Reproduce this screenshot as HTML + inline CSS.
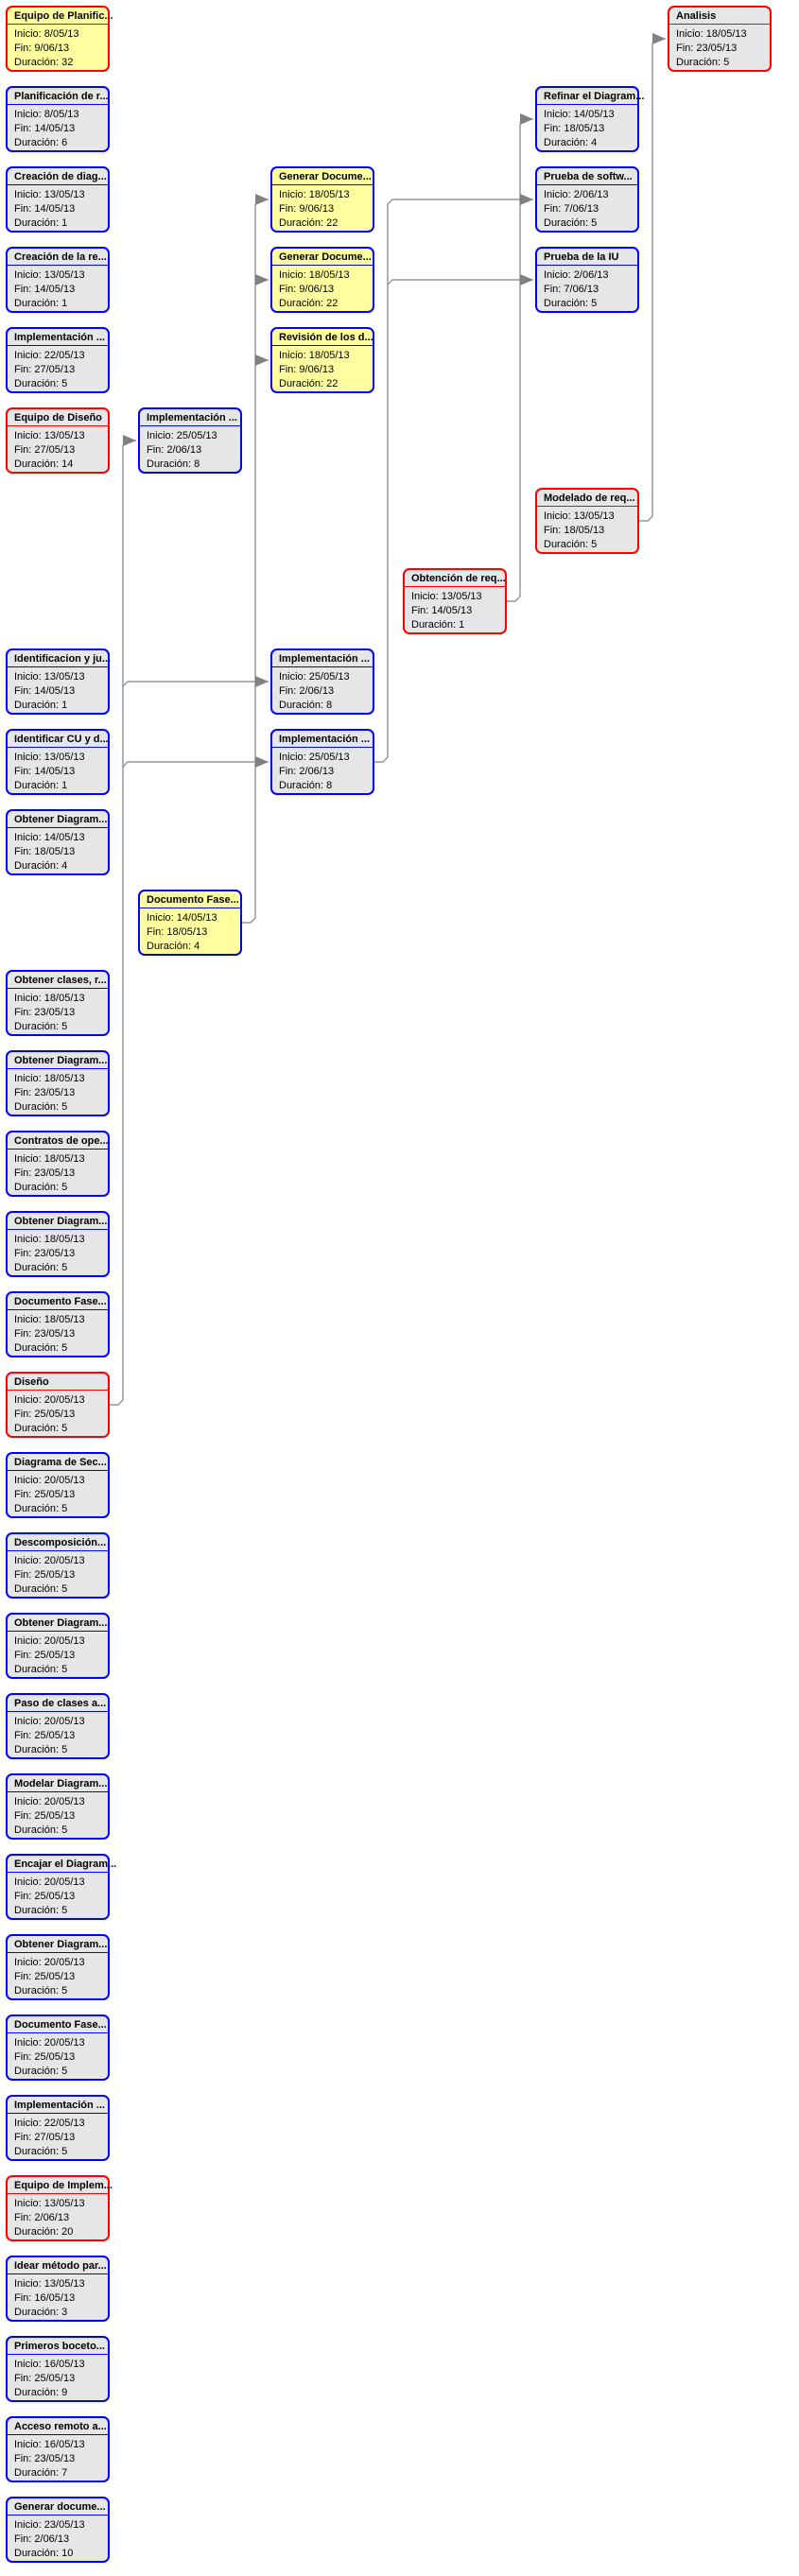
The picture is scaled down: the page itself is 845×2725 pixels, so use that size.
<!DOCTYPE html>
<html><head><meta charset="utf-8"><style>
html,body{margin:0;padding:0;background:#fff;width:845px;height:2725px;overflow:hidden}
svg{display:block}
text{font-family:"Liberation Sans",sans-serif;font-size:11px;fill:#000}
.t{font-weight:bold}
.b rect{fill:#e6e6e6;stroke:#0000ff;stroke-width:2}
.b line{stroke:#0000ff;stroke-width:1}
.r rect{stroke:#ff0000}
.r line{stroke:#ff0000}
.y rect{fill:#ffffa0}
.c{fill:none;stroke:#808080;stroke-width:1.2}
.a{fill:#808080}
</style></head><body>
<svg width="845" height="2725" xmlns="http://www.w3.org/2000/svg">
<defs>
<g id="x"></g>
</defs>
<!-- connectors -->
<path class="c" d="M115,1486 L125,1486 L130,1481 L130,471 L135,466 L144,466"/>
<path class="c" d="M130,726 L135,721 L284,721"/>
<path class="c" d="M130,811 L135,806 L284,806"/>
<path class="c" d="M255,976 L265,976 L270,971 L270,216 L275,211 L284,211"/>
<path class="c" d="M270,301 L275,296 L284,296"/>
<path class="c" d="M270,386 L275,381 L284,381"/>
<path class="c" d="M395,806 L405,806 L410,801 L410,216 L415,211 L564,211"/>
<path class="c" d="M410,301 L415,296 L564,296"/>
<path class="c" d="M535,636 L545,636 L550,631 L550,131 L555,126 L564,126"/>
<path class="c" d="M675,551 L685,551 L690,546 L690,46 L695,41 L704,41"/>
<polygon class="a" points="130,460 144,466 130,472"/>
<polygon class="a" points="270,205 284,211 270,217"/>
<polygon class="a" points="270,290 284,296 270,302"/>
<polygon class="a" points="270,375 284,381 270,387"/>
<polygon class="a" points="270,715 284,721 270,727"/>
<polygon class="a" points="270,800 284,806 270,812"/>
<polygon class="a" points="550,120 564,126 550,132"/>
<polygon class="a" points="550,205 564,211 550,217"/>
<polygon class="a" points="550,290 564,296 550,302"/>
<polygon class="a" points="690,35 704,41 690,47"/>

<!-- nodes -->
<g class="b r y" transform="translate(6,6)"><rect x="1" y="1" width="108" height="68" rx="6"/><line x1="1" y1="19.5" x2="109" y2="19.5"/><text class="t" x="9" y="14">Equipo de Planific...</text><text x="9" y="33">Inicio: 8/05/13</text><text x="9" y="48">Fin: 9/06/13</text><text x="9" y="63">Duración: 32</text></g>
<g class="b" transform="translate(6,91)"><rect x="1" y="1" width="108" height="68" rx="6"/><line x1="1" y1="19.5" x2="109" y2="19.5"/><text class="t" x="9" y="14">Planificación de r...</text><text x="9" y="33">Inicio: 8/05/13</text><text x="9" y="48">Fin: 14/05/13</text><text x="9" y="63">Duración: 6</text></g>
<g class="b" transform="translate(6,176)"><rect x="1" y="1" width="108" height="68" rx="6"/><line x1="1" y1="19.5" x2="109" y2="19.5"/><text class="t" x="9" y="14">Creación de diag...</text><text x="9" y="33">Inicio: 13/05/13</text><text x="9" y="48">Fin: 14/05/13</text><text x="9" y="63">Duración: 1</text></g>
<g class="b" transform="translate(6,261)"><rect x="1" y="1" width="108" height="68" rx="6"/><line x1="1" y1="19.5" x2="109" y2="19.5"/><text class="t" x="9" y="14">Creación de la re...</text><text x="9" y="33">Inicio: 13/05/13</text><text x="9" y="48">Fin: 14/05/13</text><text x="9" y="63">Duración: 1</text></g>
<g class="b" transform="translate(6,346)"><rect x="1" y="1" width="108" height="68" rx="6"/><line x1="1" y1="19.5" x2="109" y2="19.5"/><text class="t" x="9" y="14">Implementación ...</text><text x="9" y="33">Inicio: 22/05/13</text><text x="9" y="48">Fin: 27/05/13</text><text x="9" y="63">Duración: 5</text></g>
<g class="b r" transform="translate(6,431)"><rect x="1" y="1" width="108" height="68" rx="6"/><line x1="1" y1="19.5" x2="109" y2="19.5"/><text class="t" x="9" y="14">Equipo de Diseño</text><text x="9" y="33">Inicio: 13/05/13</text><text x="9" y="48">Fin: 27/05/13</text><text x="9" y="63">Duración: 14</text></g>
<g class="b" transform="translate(6,686)"><rect x="1" y="1" width="108" height="68" rx="6"/><line x1="1" y1="19.5" x2="109" y2="19.5"/><text class="t" x="9" y="14">Identificacion y ju...</text><text x="9" y="33">Inicio: 13/05/13</text><text x="9" y="48">Fin: 14/05/13</text><text x="9" y="63">Duración: 1</text></g>
<g class="b" transform="translate(6,771)"><rect x="1" y="1" width="108" height="68" rx="6"/><line x1="1" y1="19.5" x2="109" y2="19.5"/><text class="t" x="9" y="14">Identificar CU y d...</text><text x="9" y="33">Inicio: 13/05/13</text><text x="9" y="48">Fin: 14/05/13</text><text x="9" y="63">Duración: 1</text></g>
<g class="b" transform="translate(6,856)"><rect x="1" y="1" width="108" height="68" rx="6"/><line x1="1" y1="19.5" x2="109" y2="19.5"/><text class="t" x="9" y="14">Obtener Diagram...</text><text x="9" y="33">Inicio: 14/05/13</text><text x="9" y="48">Fin: 18/05/13</text><text x="9" y="63">Duración: 4</text></g>
<g class="b" transform="translate(6,1026)"><rect x="1" y="1" width="108" height="68" rx="6"/><line x1="1" y1="19.5" x2="109" y2="19.5"/><text class="t" x="9" y="14">Obtener clases, r...</text><text x="9" y="33">Inicio: 18/05/13</text><text x="9" y="48">Fin: 23/05/13</text><text x="9" y="63">Duración: 5</text></g>
<g class="b" transform="translate(6,1111)"><rect x="1" y="1" width="108" height="68" rx="6"/><line x1="1" y1="19.5" x2="109" y2="19.5"/><text class="t" x="9" y="14">Obtener Diagram...</text><text x="9" y="33">Inicio: 18/05/13</text><text x="9" y="48">Fin: 23/05/13</text><text x="9" y="63">Duración: 5</text></g>
<g class="b" transform="translate(6,1196)"><rect x="1" y="1" width="108" height="68" rx="6"/><line x1="1" y1="19.5" x2="109" y2="19.5"/><text class="t" x="9" y="14">Contratos de ope...</text><text x="9" y="33">Inicio: 18/05/13</text><text x="9" y="48">Fin: 23/05/13</text><text x="9" y="63">Duración: 5</text></g>
<g class="b" transform="translate(6,1281)"><rect x="1" y="1" width="108" height="68" rx="6"/><line x1="1" y1="19.5" x2="109" y2="19.5"/><text class="t" x="9" y="14">Obtener Diagram...</text><text x="9" y="33">Inicio: 18/05/13</text><text x="9" y="48">Fin: 23/05/13</text><text x="9" y="63">Duración: 5</text></g>
<g class="b" transform="translate(6,1366)"><rect x="1" y="1" width="108" height="68" rx="6"/><line x1="1" y1="19.5" x2="109" y2="19.5"/><text class="t" x="9" y="14">Documento Fase...</text><text x="9" y="33">Inicio: 18/05/13</text><text x="9" y="48">Fin: 23/05/13</text><text x="9" y="63">Duración: 5</text></g>
<g class="b r" transform="translate(6,1451)"><rect x="1" y="1" width="108" height="68" rx="6"/><line x1="1" y1="19.5" x2="109" y2="19.5"/><text class="t" x="9" y="14">Diseño</text><text x="9" y="33">Inicio: 20/05/13</text><text x="9" y="48">Fin: 25/05/13</text><text x="9" y="63">Duración: 5</text></g>
<g class="b" transform="translate(6,1536)"><rect x="1" y="1" width="108" height="68" rx="6"/><line x1="1" y1="19.5" x2="109" y2="19.5"/><text class="t" x="9" y="14">Diagrama de Sec...</text><text x="9" y="33">Inicio: 20/05/13</text><text x="9" y="48">Fin: 25/05/13</text><text x="9" y="63">Duración: 5</text></g>
<g class="b" transform="translate(6,1621)"><rect x="1" y="1" width="108" height="68" rx="6"/><line x1="1" y1="19.5" x2="109" y2="19.5"/><text class="t" x="9" y="14">Descomposición...</text><text x="9" y="33">Inicio: 20/05/13</text><text x="9" y="48">Fin: 25/05/13</text><text x="9" y="63">Duración: 5</text></g>
<g class="b" transform="translate(6,1706)"><rect x="1" y="1" width="108" height="68" rx="6"/><line x1="1" y1="19.5" x2="109" y2="19.5"/><text class="t" x="9" y="14">Obtener Diagram...</text><text x="9" y="33">Inicio: 20/05/13</text><text x="9" y="48">Fin: 25/05/13</text><text x="9" y="63">Duración: 5</text></g>
<g class="b" transform="translate(6,1791)"><rect x="1" y="1" width="108" height="68" rx="6"/><line x1="1" y1="19.5" x2="109" y2="19.5"/><text class="t" x="9" y="14">Paso de clases a...</text><text x="9" y="33">Inicio: 20/05/13</text><text x="9" y="48">Fin: 25/05/13</text><text x="9" y="63">Duración: 5</text></g>
<g class="b" transform="translate(6,1876)"><rect x="1" y="1" width="108" height="68" rx="6"/><line x1="1" y1="19.5" x2="109" y2="19.5"/><text class="t" x="9" y="14">Modelar Diagram...</text><text x="9" y="33">Inicio: 20/05/13</text><text x="9" y="48">Fin: 25/05/13</text><text x="9" y="63">Duración: 5</text></g>
<g class="b" transform="translate(6,1961)"><rect x="1" y="1" width="108" height="68" rx="6"/><line x1="1" y1="19.5" x2="109" y2="19.5"/><text class="t" x="9" y="14">Encajar el Diagram...</text><text x="9" y="33">Inicio: 20/05/13</text><text x="9" y="48">Fin: 25/05/13</text><text x="9" y="63">Duración: 5</text></g>
<g class="b" transform="translate(6,2046)"><rect x="1" y="1" width="108" height="68" rx="6"/><line x1="1" y1="19.5" x2="109" y2="19.5"/><text class="t" x="9" y="14">Obtener Diagram...</text><text x="9" y="33">Inicio: 20/05/13</text><text x="9" y="48">Fin: 25/05/13</text><text x="9" y="63">Duración: 5</text></g>
<g class="b" transform="translate(6,2131)"><rect x="1" y="1" width="108" height="68" rx="6"/><line x1="1" y1="19.5" x2="109" y2="19.5"/><text class="t" x="9" y="14">Documento Fase...</text><text x="9" y="33">Inicio: 20/05/13</text><text x="9" y="48">Fin: 25/05/13</text><text x="9" y="63">Duración: 5</text></g>
<g class="b" transform="translate(6,2216)"><rect x="1" y="1" width="108" height="68" rx="6"/><line x1="1" y1="19.5" x2="109" y2="19.5"/><text class="t" x="9" y="14">Implementación ...</text><text x="9" y="33">Inicio: 22/05/13</text><text x="9" y="48">Fin: 27/05/13</text><text x="9" y="63">Duración: 5</text></g>
<g class="b r" transform="translate(6,2301)"><rect x="1" y="1" width="108" height="68" rx="6"/><line x1="1" y1="19.5" x2="109" y2="19.5"/><text class="t" x="9" y="14">Equipo de Implem...</text><text x="9" y="33">Inicio: 13/05/13</text><text x="9" y="48">Fin: 2/06/13</text><text x="9" y="63">Duración: 20</text></g>
<g class="b" transform="translate(6,2386)"><rect x="1" y="1" width="108" height="68" rx="6"/><line x1="1" y1="19.5" x2="109" y2="19.5"/><text class="t" x="9" y="14">Idear método par...</text><text x="9" y="33">Inicio: 13/05/13</text><text x="9" y="48">Fin: 16/05/13</text><text x="9" y="63">Duración: 3</text></g>
<g class="b" transform="translate(6,2471)"><rect x="1" y="1" width="108" height="68" rx="6"/><line x1="1" y1="19.5" x2="109" y2="19.5"/><text class="t" x="9" y="14">Primeros boceto...</text><text x="9" y="33">Inicio: 16/05/13</text><text x="9" y="48">Fin: 25/05/13</text><text x="9" y="63">Duración: 9</text></g>
<g class="b" transform="translate(6,2556)"><rect x="1" y="1" width="108" height="68" rx="6"/><line x1="1" y1="19.5" x2="109" y2="19.5"/><text class="t" x="9" y="14">Acceso remoto a...</text><text x="9" y="33">Inicio: 16/05/13</text><text x="9" y="48">Fin: 23/05/13</text><text x="9" y="63">Duración: 7</text></g>
<g class="b" transform="translate(6,2641)"><rect x="1" y="1" width="108" height="68" rx="6"/><line x1="1" y1="19.5" x2="109" y2="19.5"/><text class="t" x="9" y="14">Generar docume...</text><text x="9" y="33">Inicio: 23/05/13</text><text x="9" y="48">Fin: 2/06/13</text><text x="9" y="63">Duración: 10</text></g>

<g class="b" transform="translate(146,431)"><rect x="1" y="1" width="108" height="68" rx="6"/><line x1="1" y1="19.5" x2="109" y2="19.5"/><text class="t" x="9" y="14">Implementación ...</text><text x="9" y="33">Inicio: 25/05/13</text><text x="9" y="48">Fin: 2/06/13</text><text x="9" y="63">Duración: 8</text></g>
<g class="b y" transform="translate(146,941)"><rect x="1" y="1" width="108" height="68" rx="6"/><line x1="1" y1="19.5" x2="109" y2="19.5"/><text class="t" x="9" y="14">Documento Fase...</text><text x="9" y="33">Inicio: 14/05/13</text><text x="9" y="48">Fin: 18/05/13</text><text x="9" y="63">Duración: 4</text></g>

<g class="b y" transform="translate(286,176)"><rect x="1" y="1" width="108" height="68" rx="6"/><line x1="1" y1="19.5" x2="109" y2="19.5"/><text class="t" x="9" y="14">Generar Docume...</text><text x="9" y="33">Inicio: 18/05/13</text><text x="9" y="48">Fin: 9/06/13</text><text x="9" y="63">Duración: 22</text></g>
<g class="b y" transform="translate(286,261)"><rect x="1" y="1" width="108" height="68" rx="6"/><line x1="1" y1="19.5" x2="109" y2="19.5"/><text class="t" x="9" y="14">Generar Docume...</text><text x="9" y="33">Inicio: 18/05/13</text><text x="9" y="48">Fin: 9/06/13</text><text x="9" y="63">Duración: 22</text></g>
<g class="b y" transform="translate(286,346)"><rect x="1" y="1" width="108" height="68" rx="6"/><line x1="1" y1="19.5" x2="109" y2="19.5"/><text class="t" x="9" y="14">Revisión de los d...</text><text x="9" y="33">Inicio: 18/05/13</text><text x="9" y="48">Fin: 9/06/13</text><text x="9" y="63">Duración: 22</text></g>
<g class="b" transform="translate(286,686)"><rect x="1" y="1" width="108" height="68" rx="6"/><line x1="1" y1="19.5" x2="109" y2="19.5"/><text class="t" x="9" y="14">Implementación ...</text><text x="9" y="33">Inicio: 25/05/13</text><text x="9" y="48">Fin: 2/06/13</text><text x="9" y="63">Duración: 8</text></g>
<g class="b" transform="translate(286,771)"><rect x="1" y="1" width="108" height="68" rx="6"/><line x1="1" y1="19.5" x2="109" y2="19.5"/><text class="t" x="9" y="14">Implementación ...</text><text x="9" y="33">Inicio: 25/05/13</text><text x="9" y="48">Fin: 2/06/13</text><text x="9" y="63">Duración: 8</text></g>

<g class="b r" transform="translate(426,601)"><rect x="1" y="1" width="108" height="68" rx="6"/><line x1="1" y1="19.5" x2="109" y2="19.5"/><text class="t" x="9" y="14">Obtención de req...</text><text x="9" y="33">Inicio: 13/05/13</text><text x="9" y="48">Fin: 14/05/13</text><text x="9" y="63">Duración: 1</text></g>

<g class="b" transform="translate(566,91)"><rect x="1" y="1" width="108" height="68" rx="6"/><line x1="1" y1="19.5" x2="109" y2="19.5"/><text class="t" x="9" y="14">Refinar el Diagram...</text><text x="9" y="33">Inicio: 14/05/13</text><text x="9" y="48">Fin: 18/05/13</text><text x="9" y="63">Duración: 4</text></g>
<g class="b" transform="translate(566,176)"><rect x="1" y="1" width="108" height="68" rx="6"/><line x1="1" y1="19.5" x2="109" y2="19.5"/><text class="t" x="9" y="14">Prueba de softw...</text><text x="9" y="33">Inicio: 2/06/13</text><text x="9" y="48">Fin: 7/06/13</text><text x="9" y="63">Duración: 5</text></g>
<g class="b" transform="translate(566,261)"><rect x="1" y="1" width="108" height="68" rx="6"/><line x1="1" y1="19.5" x2="109" y2="19.5"/><text class="t" x="9" y="14">Prueba de la IU</text><text x="9" y="33">Inicio: 2/06/13</text><text x="9" y="48">Fin: 7/06/13</text><text x="9" y="63">Duración: 5</text></g>
<g class="b r" transform="translate(566,516)"><rect x="1" y="1" width="108" height="68" rx="6"/><line x1="1" y1="19.5" x2="109" y2="19.5"/><text class="t" x="9" y="14">Modelado de req...</text><text x="9" y="33">Inicio: 13/05/13</text><text x="9" y="48">Fin: 18/05/13</text><text x="9" y="63">Duración: 5</text></g>

<g class="b r" transform="translate(706,6)"><rect x="1" y="1" width="108" height="68" rx="6"/><line x1="1" y1="19.5" x2="109" y2="19.5"/><text class="t" x="9" y="14">Analisis</text><text x="9" y="33">Inicio: 18/05/13</text><text x="9" y="48">Fin: 23/05/13</text><text x="9" y="63">Duración: 5</text></g>
</svg>
</body></html>
